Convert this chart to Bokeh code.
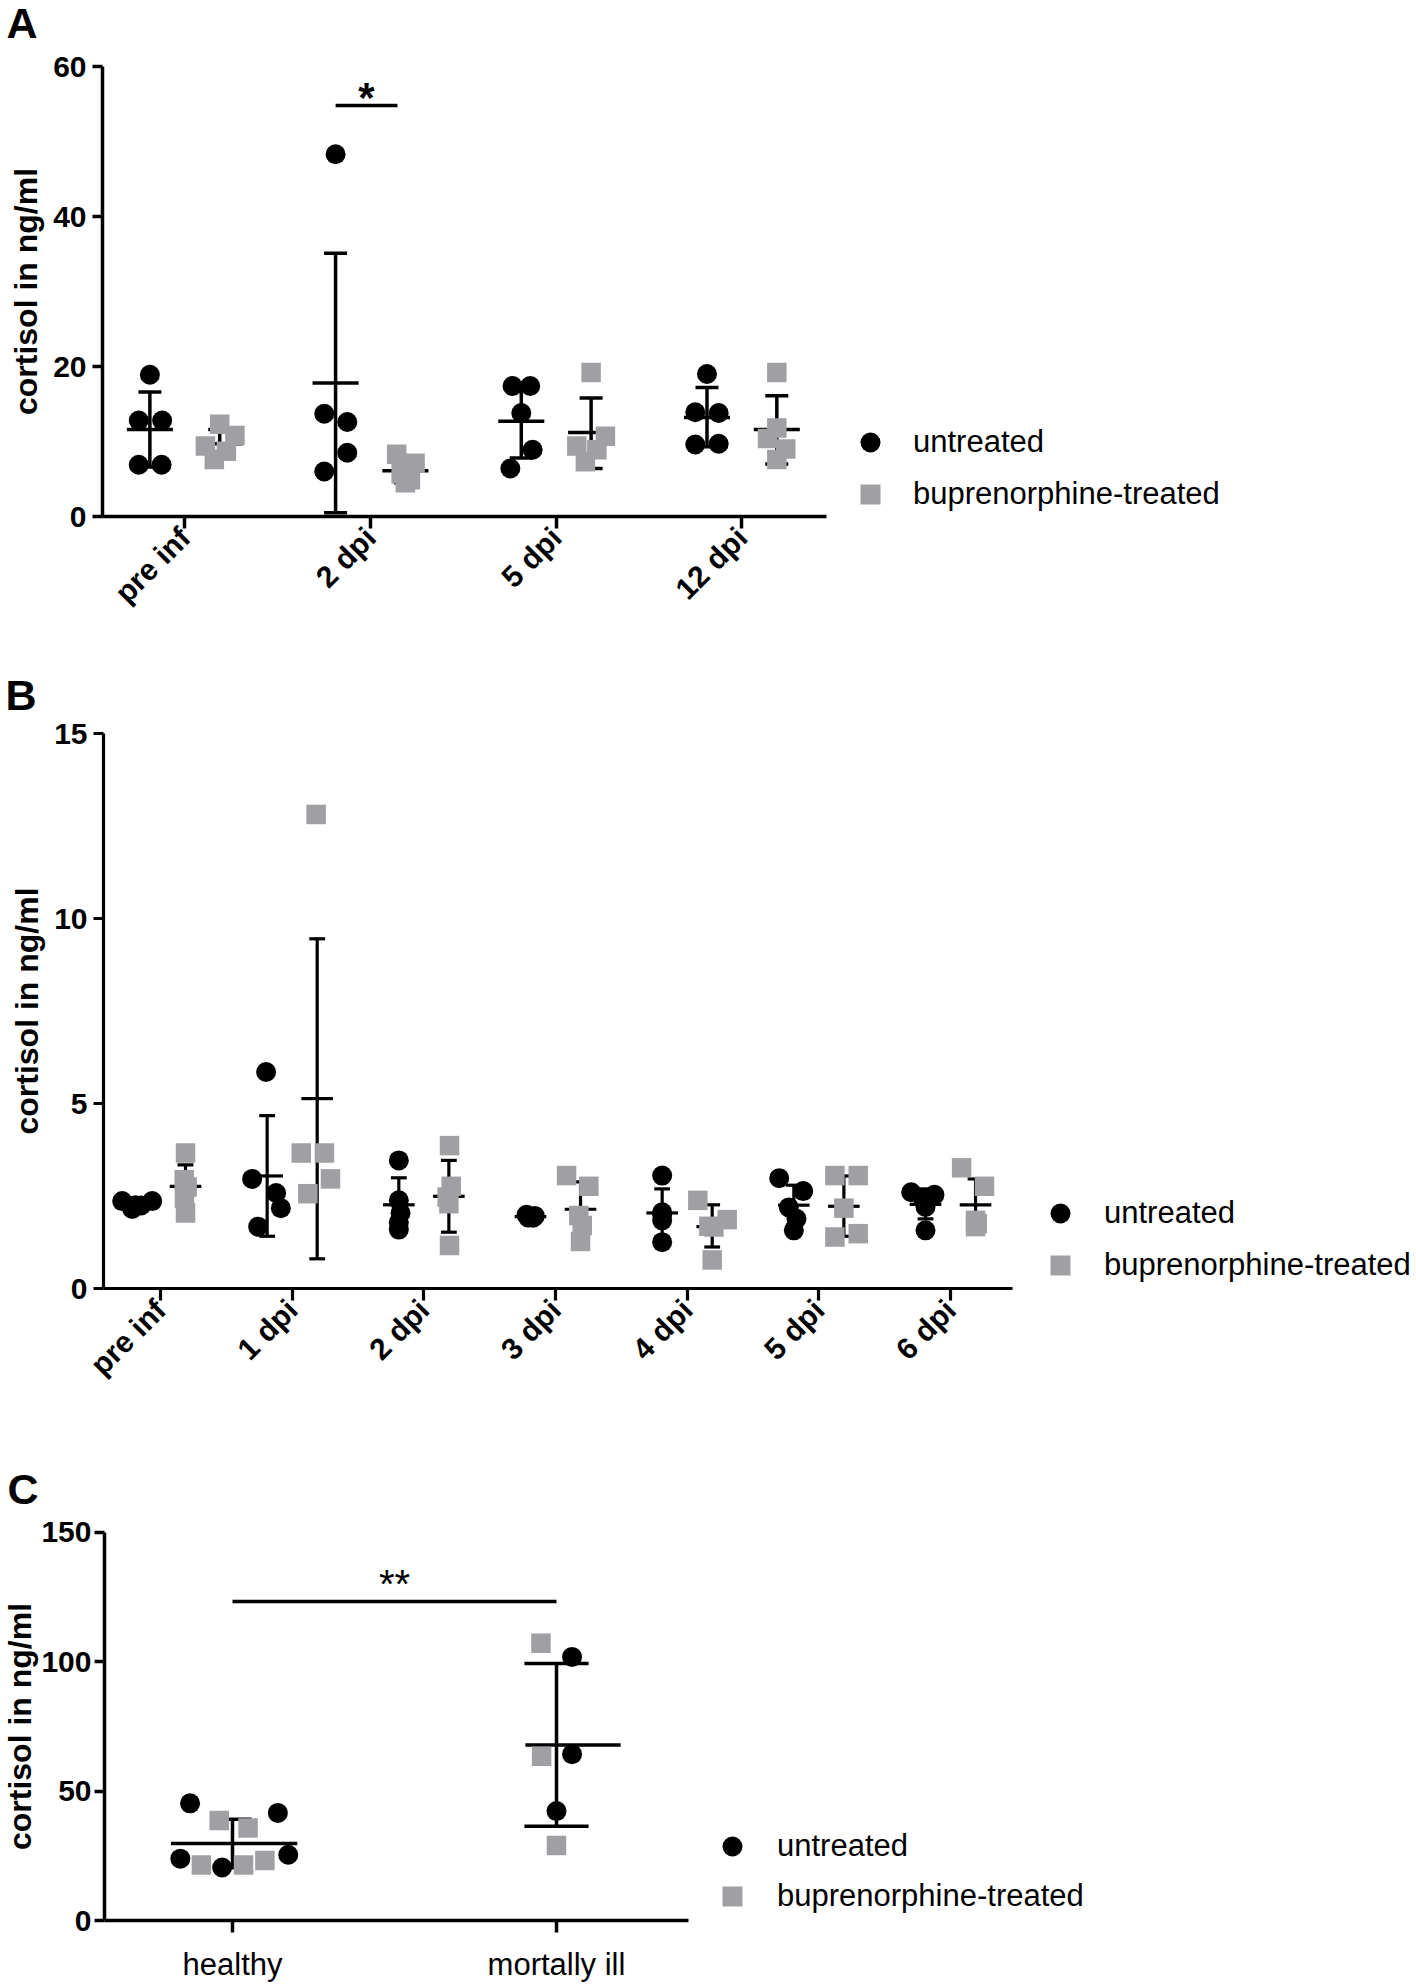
import math
from bokeh.plotting import figure
from bokeh.models import FixedTicker, Legend, LegendItem, Label, Range1d
from bokeh.layouts import column
from bokeh.embed import file_html
from bokeh.resources import INLINE

FONT = "Liberation Sans"
BLACK = "#000000"
GREY = "#a0a0a4"
W = 1416

# ---------------- Panel A data ----------------
a_categories = ["pre inf", "2 dpi", "5 dpi", "12 dpi"]
a_yticks = [0, 20, 40, 60]
a_untreated = [[18.9, 12.8, 12.8, 6.9, 6.9],
               [48.3, 13.7, 12.6, 8.5, 6.0],
               [17.4, 17.4, 13.8, 8.9, 6.4],
               [19.0, 13.9, 13.8, 9.6, 9.7]]
a_treated = [[12.3, 10.8, 9.4, 8.7, 7.6],
             [8.3, 7.1, 5.7, 4.9, 4.5],
             [19.2, 10.7, 9.4, 8.9, 7.3],
             [19.2, 11.8, 10.4, 9.0, 7.6]]
a_untreated_mean = [11.6, 17.8, 12.7, 13.2]
a_untreated_lo = [6.6, 0.5, 7.8, 9.3]
a_untreated_hi = [16.6, 35.1, 17.8, 17.2]
a_treated_mean = [9.7, 6.1, 11.2, 11.6]
a_treated_lo = [7.9, 4.5, 6.4, 7.0]
a_treated_hi = [11.6, 7.7, 15.8, 16.1]
a_sig_y = 54.8
a_sig_text = "*"

# ---------------- Panel B data ----------------
b_categories = ["pre inf", "1 dpi", "2 dpi", "3 dpi", "4 dpi", "5 dpi", "6 dpi"]
b_yticks = [0, 5, 10, 15]
b_untreated = [[2.37, 2.16, 2.26, 2.25, 2.37],
               [5.86, 2.97, 2.59, 2.18, 1.68],
               [3.47, 2.39, 2.05, 1.80, 1.60],
               [2.00, 1.97, 1.95, 1.93, 1.92],
               [3.06, 2.07, 2.00, 1.85, 1.26],
               [2.99, 2.64, 2.20, 1.89, 1.58],
               [2.61, 2.54, 2.45, 2.21, 1.58]]
b_treated = [[3.67, 2.95, 2.75, 2.45, 2.05],
             [12.82, 3.67, 3.67, 2.97, 2.57],
             [3.87, 2.77, 2.48, 2.30, 1.17],
             [3.06, 2.77, 1.98, 1.71, 1.28],
             [2.39, 1.87, 1.69, 1.67, 0.78],
             [3.06, 3.06, 2.18, 1.40, 1.49],
             [3.27, 2.77, 1.85, 1.76, 1.68]]
b_untreated_mean = [2.29, 3.05, 2.27, 1.95, 2.05, 2.26, 2.28]
b_untreated_lo = [2.20, 1.42, 1.53, 1.90, 1.40, 1.72, 1.89]
b_untreated_hi = [2.38, 4.68, 3.00, 2.00, 2.70, 2.80, 2.70]
b_treated_mean = [2.77, 5.14, 2.50, 2.15, 1.68, 2.23, 2.27]
b_treated_lo = [2.17, 0.81, 1.53, 1.42, 1.13, 1.42, 1.57]
b_treated_hi = [3.35, 9.46, 3.47, 2.89, 2.27, 3.05, 2.97]

# ---------------- Panel C data ----------------
c_categories = ["healthy", "mortally ill"]
c_yticks = [0, 50, 100, 150]
c_untreated = [[45.3, 41.6, 25.4, 23.9, 20.5],
               [101.9, 64.3, 42.3]]
c_treated = [[38.7, 35.8, 23.2, 21.5, 21.5],
             [107.2, 63.5, 29.0]]
c_mean = [29.8, 67.8]
c_lo = [20.4, 36.4]
c_hi = [39.1, 99.4]
c_sig_y = 123.3
c_sig_text = "**"

# ---------------- layout: horizontal scatter of points (category units) ----------------
a_untreated_jitter = [[0, -0.06, 0.066, -0.06, 0.063],
                      [0, -0.061, 0.063, 0.063, -0.061],
                      [-0.047, 0.048, 0, 0.061, -0.059],
                      [0, -0.063, 0.063, -0.063, 0.063]]
a_treated_jitter = [[0, 0.082, -0.077, 0.036, -0.029],
                    [-0.047, 0.052, -0.023, 0.027, 0],
                    [0, 0.077, -0.077, 0.031, -0.031],
                    [0, 0, -0.05, 0.048, 0]]
b_untreated_jitter = [[-0.101, -0.025, 0, 0.043, 0.127],
                      [-0.008, -0.114, 0.068, 0.104, -0.068],
                      [0, 0, 0.013, 0, 0],
                      [-0.03, 0.033, 0, -0.018, 0.02],
                      [0, 0, 0, 0, 0],
                      [-0.111, 0.071, -0.038, 0.02, 0],
                      [-0.109, 0.068, -0.02, 0, 0]]
b_treated_jitter = [[0, -0.01, 0.012, -0.008, 0],
                    [-0.008, -0.121, 0.055, 0.101, -0.071],
                    [0.005, 0.018, -0.013, 0, 0.005],
                    [-0.106, 0.063, -0.013, 0.013, 0],
                    [-0.109, 0.114, -0.025, 0.013, 0],
                    [-0.068, 0.109, 0, -0.068, 0.109],
                    [-0.106, 0.068, 0, 0.013, 0]]
c_untreated_jitter = [[-0.131, 0.14, 0.172, -0.161, -0.032], [0.048, 0.048, 0]]
c_treated_jitter = [[-0.041, 0.048, 0.10, -0.096, 0.034], [-0.048, -0.046, 0]]


class Geo:
    """pixel geometry of one panel: canvas height, first tick x, category spacing,
    y pixel of value 0 (from canvas top), pixels per unit."""
    def __init__(self, H, tick0, spacing, zero_y, ppu):
        self.H, self.tick0, self.spacing, self.zero_y, self.ppu = H, tick0, spacing, zero_y, ppu

    def x(self, px):
        return (px - self.tick0) / self.spacing

    def y(self, py):
        return (self.zero_y - py) / self.ppu


def make_fig(g):
    p = figure(width=W, height=g.H, x_range=Range1d(g.x(0), g.x(W)), y_range=Range1d(g.y(g.H), g.y(0)),
               title=None, output_backend="svg", toolbar_location=None,
               min_border=0, min_border_left=0, min_border_right=0, min_border_top=0, min_border_bottom=0)
    p.outline_line_color = None
    p.xgrid.visible = False
    p.ygrid.visible = False
    p.background_fill_color = "white"
    p.border_fill_color = "white"
    return p


def style_axes(p, g, cats, yticks, ax_left_px, ax_right_px, lw, x_size, x_bold, x_orient,
               x_standoff, y_standoff, ylab_standoff):
    xa, ya = p.xaxis[0], p.yaxis[0]
    xa.ticker = FixedTicker(ticks=list(range(len(cats))))
    xa.major_label_overrides = {i: c for i, c in enumerate(cats)}
    ya.ticker = FixedTicker(ticks=yticks)
    xa.fixed_location = 0
    ya.fixed_location = g.x(ax_left_px)
    xa.bounds = (g.x(ax_left_px), g.x(ax_right_px))
    ya.bounds = (yticks[0], yticks[-1])
    for ax in (xa, ya):
        ax.axis_line_width = lw
        ax.axis_line_color = BLACK
        ax.major_tick_line_width = lw
        ax.major_tick_line_color = BLACK
        ax.major_tick_in = 0
        ax.minor_tick_line_color = None
        ax.major_label_text_font = FONT
        ax.major_label_text_color = BLACK
    xa.major_tick_out = 12
    ya.major_tick_out = 10
    ya.major_label_text_font_size = "30px"
    ya.major_label_text_font_style = "bold"
    ya.major_label_standoff = y_standoff
    xa.major_label_text_font_size = x_size
    xa.major_label_text_font_style = "bold" if x_bold else "normal"
    xa.major_label_orientation = x_orient
    xa.major_label_standoff = x_standoff
    ya.axis_label = "cortisol in ng/ml"
    ya.axis_label_text_font = FONT
    ya.axis_label_text_font_size = "32px"
    ya.axis_label_text_font_style = "bold"
    ya.axis_label_text_color = BLACK
    ya.axis_label_standoff = ylab_standoff


def points(p, vals, jit, offset, marker, color, size):
    xs, ys = [], []
    for i, (vs, js) in enumerate(zip(vals, jit)):
        for v, j in zip(vs, js):
            xs.append(i + offset + j)
            ys.append(v)
    return p.scatter(xs, ys, marker=marker, size=size, fill_color=color, line_color=None)


def errbars(p, means, lo, hi, offset, cap, mean_left, mean_right, lw):
    n = len(means)
    xs = [i + offset for i in range(n)]
    cap = cap if isinstance(cap, list) else [cap] * n
    ml = mean_left if isinstance(mean_left, list) else [mean_left] * n
    mr = mean_right if isinstance(mean_right, list) else [mean_right] * n
    kw = dict(line_width=lw, line_color=BLACK, line_cap="butt")
    p.segment(x0=xs, y0=lo, x1=xs, y1=hi, **kw)
    p.segment(x0=[x - c for x, c in zip(xs, cap)], y0=lo, x1=[x + c for x, c in zip(xs, cap)], y1=lo, **kw)
    p.segment(x0=[x - c for x, c in zip(xs, cap)], y0=hi, x1=[x + c for x, c in zip(xs, cap)], y1=hi, **kw)
    p.segment(x0=[x - a for x, a in zip(xs, ml)], y0=means, x1=[x + b for x, b in zip(xs, mr)], y1=means, **kw)


def legend(p, g, rc, rs, glyph_left_px, bottom_px, font_size, standoff, spacing):
    leg = Legend(items=[LegendItem(label="untreated", renderers=[rc]),
                        LegendItem(label="buprenorphine-treated", renderers=[rs])],
                 location=(glyph_left_px, g.H - bottom_px), orientation="vertical",
                 glyph_width=50, glyph_height=50, label_standoff=standoff, spacing=spacing,
                 padding=0, margin=0, border_line_color=None, background_fill_alpha=0,
                 label_text_font=FONT, label_text_font_size=font_size, label_text_color=BLACK)
    p.add_layout(leg)


def letter(p, g, txt, left_px, baseline_px):
    p.add_layout(Label(x=g.x(left_px), y=g.y(baseline_px), text=txt, text_font=FONT,
                       text_font_size="43px", text_font_style="bold", text_color=BLACK,
                       text_align="left", text_baseline="alphabetic"))


OFF = 0.188

# ---------------- Panel A (page y 0..650) ----------------
gA = Geo(650, 184.3, 185.7, 516.0, 7.5)
pA = make_fig(gA)
style_axes(pA, gA, a_categories, a_yticks, 102, 826, 3.5, "30px", True, math.pi / 4, 4, 6, 6)
errbars(pA, a_untreated_mean, a_untreated_lo, a_untreated_hi, -OFF, 0.062, 0.124, 0.124, 3.5)
errbars(pA, a_treated_mean, a_treated_lo, a_treated_hi, OFF, 0.062, 0.124, 0.124, 3.5)
rAc = points(pA, a_untreated, a_untreated_jitter, -OFF, "circle", BLACK, 20)
rAs = points(pA, a_treated, a_treated_jitter, OFF, "square", GREY, 19.5)
pA.segment(x0=[1 - OFF], y0=[a_sig_y], x1=[1.145], y1=[a_sig_y], line_width=3.5, line_color=BLACK)
pA.add_layout(Label(x=(1 - OFF + 1.145) / 2, y=a_sig_y + 1.1, text=a_sig_text, text_font=FONT,
                    text_font_size="42px", text_font_style="bold", text_align="center",
                    text_baseline="alphabetic", text_color=BLACK))
legend(pA, gA, rAc, rAs, 845, 519, "31px", 18, 2)
letter(pA, gA, "A", 6, 22)

# ---------------- Panel B (page y 650..1420) ----------------
OFFB = 0.19
gB = Geo(770, 160.0, 131.67, 1288.3 - 650, 37.0)
pB = make_fig(gB)
style_axes(pB, gB, b_categories, b_yticks, 103, 1012, 3.2, "30px", True, math.pi / 4, 4, 6, 6)
errbars(pB, b_untreated_mean, b_untreated_lo, b_untreated_hi, -OFFB, 0.06, 0.12, 0.12, 3.2)
errbars(pB, b_treated_mean, b_treated_lo, b_treated_hi, OFFB, 0.06, 0.12, 0.12, 3.2)
rBc = points(pB, b_untreated, b_untreated_jitter, -OFFB, "circle", BLACK, 20)
rBs = points(pB, b_treated, b_treated_jitter, OFFB, "square", GREY, 19.5)
legend(pB, gB, rBc, rBs, 1035, 1290 - 650, "31px", 19, 2)
letter(pB, gB, "B", 5, 694 - 650)

# ---------------- Panel C (page y 1420..1987) ----------------
gC = Geo(567, 232.0, 324.0, 1920 - 1420, 2.5867)
pC = make_fig(gC)
style_axes(pC, gC, c_categories, c_yticks, 104, 688, 3.5, "31px", False, "horizontal", 14, 3, 0)
errbars(pC, c_mean, c_lo, c_hi, 0, [0.059, 0.099], [0.19, 0.096], [0.2, 0.198], 3.5)
rCs = points(pC, c_treated, c_treated_jitter, 0, "square", GREY, 19.5)
rCc = points(pC, c_untreated, c_untreated_jitter, 0, "circle", BLACK, 20)
pC.segment(x0=[0], y0=[c_sig_y], x1=[1], y1=[c_sig_y], line_width=3.5, line_color=BLACK)
pC.add_layout(Label(x=0.5, y=c_sig_y + 6.8, text=c_sig_text, text_font=FONT,
                    text_font_size="40px", text_align="center",
                    text_baseline="alphabetic", text_color=BLACK))
legend(pC, gC, rCc, rCs, 707, 1921 - 1420, "31px", 20, 0)
letter(pC, gC, "C", 7, 1488 - 1420)

layout = column(pA, pB, pC, spacing=0)
open("out.html", "w").write(file_html(layout, INLINE))
